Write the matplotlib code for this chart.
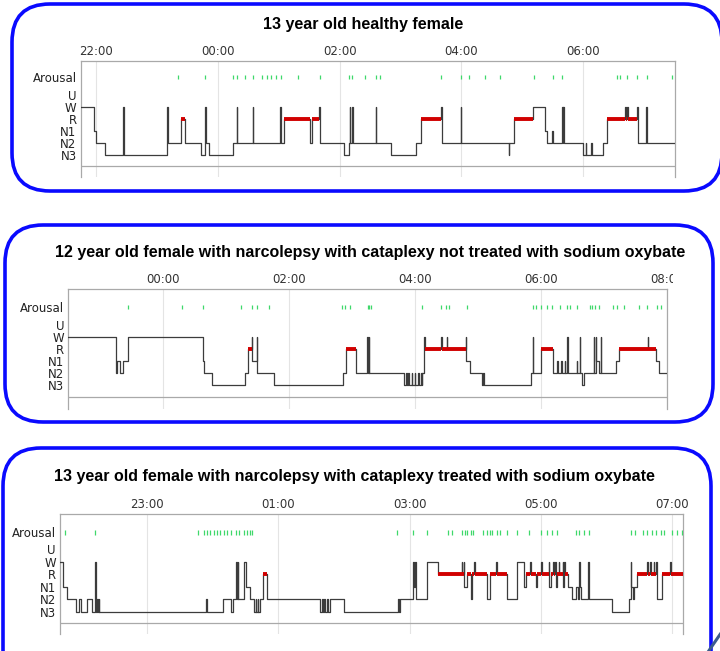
import matplotlib
matplotlib.use('Agg')
import matplotlib.pyplot as plt
from matplotlib.patches import FancyBboxPatch
from matplotlib.transforms import Bbox, TransformedBbox

# ---------------- data ----------------
stage_names = ['N3', 'N2', 'N1', 'R', 'W', 'U']
stage_level = {'N3': 0, 'N2': 1, 'N1': 2, 'R': 3, 'W': 4, 'U': 5}

titles = ['13 year old healthy female',
          '12 year old female with narcolepsy with cataplexy not treated with sodium oxybate',
          '13 year old female with narcolepsy with cataplexy treated with sodium oxybate']

# clock hours (24 = 00:00 next day)
p1_range = (21.75, 31.5)
p1_ticks = [22, 24, 26, 28, 30]
p1_ticklabels = ['22:00', '00:00', '02:00', '04:00', '06:00']
p1_epochs = [(21.75, 'W'), (21.97, 'N1'), (22.005, 'N2'), (22.15, 'N3'), (22.45, 'W'), (22.46, 'N3'),
             (23.16, 'W'), (23.175, 'N2'), (23.39, 'R'), (23.46, 'N2'), (23.72, 'N3'), (23.79, 'W'),
             (23.80, 'N2'), (23.85, 'N3'), (24.25, 'N2'), (24.31, 'W'), (24.32, 'N2'), (24.57, 'W'),
             (24.58, 'N2'), (25.02, 'W'), (25.03, 'N2'), (25.09, 'R'), (25.51, 'N2'), (25.54, 'R'),
             (25.66, 'W'), (25.67, 'N2'), (26.07, 'N3'), (26.15, 'N2'), (26.17, 'W'), (26.175, 'N2'),
             (26.21, 'W'), (26.215, 'N2'), (26.59, 'W'), (26.60, 'N2'), (26.84, 'N3'), (27.26, 'N2'),
             (27.34, 'R'), (27.66, 'W'), (27.675, 'N2'), (27.99, 'W'), (28.0, 'N2'), (28.775, 'N3'),
             (28.785, 'N2'), (28.86, 'R'), (29.175, 'W'), (29.37, 'N1'), (29.40, 'N2'), (29.49, 'N1'),
             (29.50, 'N2'), (29.65, 'W'), (29.66, 'N2'), (29.67, 'W'), (29.68, 'N2'), (30.0, 'N3'),
             (30.04, 'N2'), (30.05, 'N3'), (30.125, 'N2'), (30.135, 'N3'), (30.32, 'N2'), (30.39, 'R'),
             (30.69, 'W'), (30.695, 'R'), (30.725, 'W'), (30.73, 'R'), (30.88, 'W'), (30.89, 'N2'),
             (31.03, 'W'), (31.04, 'N2')]
p1_arousals = [23.34, 23.79, 24.25, 24.31, 24.45, 24.57, 24.73, 24.80, 24.88, 24.95, 25.03, 25.31,
               25.68, 26.16, 26.21, 26.41, 26.59, 26.67, 27.66, 28.0, 28.12, 28.39, 28.64, 29.19,
               29.50, 29.65, 30.56, 30.61, 30.72, 30.88, 31.04, 31.46]

p2_range = (22.5, 32.0)
p2_ticks = [24, 26, 28, 30, 32]
p2_ticklabels = ['00:00', '02:00', '04:00', '06:00', '08:00']
p2_epochs = [(22.5, 'W'), (23.26, 'N2'), (23.28, 'N1'), (23.32, 'N2'), (23.37, 'N1'), (23.44, 'W'),
             (24.64, 'N1'), (24.66, 'N2'), (24.78, 'N3'), (25.31, 'N2'), (25.345, 'N1'), (25.36, 'R'),
             (25.41, 'W'), (25.42, 'N1'), (25.49, 'W'), (25.50, 'N2'), (25.77, 'N3'), (26.86, 'N2'),
             (26.91, 'R'), (27.06, 'N2'), (27.24, 'W'), (27.25, 'N2'), (27.27, 'W'), (27.28, 'N2'),
             (27.825, 'N3'), (27.86, 'N2'), (27.87, 'N3'), (27.90, 'N2'), (27.91, 'N3'), (27.95, 'N2'),
             (27.96, 'N3'), (28.0, 'N2'), (28.01, 'N3'), (28.05, 'N2'), (28.06, 'N3'), (28.10, 'N2'),
             (28.11, 'N3'), (28.12, 'N2'), (28.14, 'W'), (28.17, 'R'), (28.42, 'W'), (28.43, 'R'),
             (28.51, 'W'), (28.52, 'R'), (28.81, 'W'), (28.82, 'N1'), (28.885, 'N2'), (29.07, 'N3'),
             (29.08, 'N2'), (29.10, 'N3'), (29.84, 'N2'), (29.87, 'W'), (29.875, 'N2'), (30.0, 'R'),
             (30.20, 'N2'), (30.26, 'N1'), (30.27, 'N2'), (30.32, 'N1'), (30.33, 'N2'), (30.38, 'N1'),
             (30.39, 'N2'), (30.42, 'W'), (30.43, 'N2'), (30.57, 'N1'), (30.58, 'N2'), (30.62, 'W'),
             (30.63, 'N2'), (30.66, 'N3'), (30.69, 'N2'), (30.845, 'W'), (30.85, 'N2'), (30.88, 'W'),
             (30.885, 'N1'), (30.92, 'N2'), (30.95, 'W'), (30.96, 'N2'), (31.19, 'N1'), (31.24, 'R'),
             (31.70, 'W'), (31.71, 'R'), (31.83, 'N1'), (31.88, 'N2')]
p2_arousals = [23.44, 24.30, 24.645, 25.24, 25.415, 25.49, 25.68, 26.85, 26.90, 26.97, 27.25, 27.27,
               27.31, 28.12, 28.42, 28.50, 28.54, 28.83, 29.87, 29.92, 30.0, 30.10, 30.18, 30.305,
               30.42, 30.46, 30.58, 30.78, 30.82, 30.86, 30.93, 31.14, 31.21, 31.32, 31.56, 31.69,
               31.85, 31.91]

p3_range = (21.67, 31.17)
p3_ticks = [23, 25, 27, 29, 31]
p3_ticklabels = ['23:00', '01:00', '03:00', '05:00', '07:00']
p3_epochs = [(21.67, 'W'), (21.72, 'N1'), (21.77, 'N2'), (21.92, 'N3'), (21.96, 'N2'), (21.99, 'N3'),
             (22.085, 'N2'), (22.16, 'N3'), (22.21, 'W'), (22.22, 'N3'), (22.24, 'N2'), (22.25, 'N3'),
             (22.26, 'N2'), (22.27, 'N3'), (23.90, 'N2'), (23.915, 'N3'), (24.15, 'N2'), (24.27, 'N3'),
             (24.30, 'N2'), (24.36, 'W'), (24.37, 'N2'), (24.38, 'W'), (24.39, 'N2'), (24.48, 'W'),
             (24.51, 'N1'), (24.56, 'N2'), (24.625, 'N3'), (24.65, 'N2'), (24.66, 'N3'), (24.685, 'N2'),
             (24.69, 'N3'), (24.72, 'N2'), (24.76, 'R'), (24.83, 'N2'), (25.63, 'N3'), (25.67, 'N2'),
             (25.675, 'N3'), (25.70, 'N2'), (25.71, 'N3'), (25.74, 'N2'), (25.75, 'N3'), (25.79, 'N2'),
             (26.00, 'N3'), (26.82, 'N2'), (26.83, 'N3'), (26.85, 'N2'), (27.05, 'W'), (27.06, 'N1'),
             (27.08, 'W'), (27.09, 'N2'), (27.26, 'W'), (27.43, 'R'), (27.79, 'W'), (27.80, 'R'),
             (27.83, 'W'), (27.835, 'N1'), (27.87, 'R'), (27.93, 'N2'), (27.945, 'R'), (27.98, 'W'),
             (27.99, 'R'), (28.18, 'N2'), (28.22, 'R'), (28.32, 'W'), (28.33, 'R'), (28.49, 'N2'),
             (28.64, 'W'), (28.74, 'N1'), (28.77, 'R'), (28.84, 'W'), (28.85, 'R'), (28.92, 'N1'),
             (28.94, 'R'), (29.0, 'W'), (29.01, 'R'), (29.12, 'W'), (29.13, 'N1'), (29.15, 'R'),
             (29.19, 'W'), (29.20, 'R'), (29.22, 'W'), (29.23, 'N1'), (29.25, 'R'), (29.27, 'W'),
             (29.28, 'R'), (29.33, 'W'), (29.34, 'N1'), (29.35, 'W'), (29.36, 'R'), (29.42, 'N1'),
             (29.48, 'N2'), (29.53, 'N1'), (29.56, 'N2'), (29.58, 'W'), (29.59, 'N1'), (29.605, 'N2'),
             (29.72, 'W'), (29.73, 'N2'), (30.09, 'N3'), (30.34, 'N2'), (30.37, 'W'), (30.375, 'N1'),
             (30.40, 'N2'), (30.415, 'N1'), (30.47, 'R'), (30.62, 'W'), (30.63, 'R'), (30.67, 'W'),
             (30.68, 'R'), (30.72, 'W'), (30.73, 'R'), (30.76, 'W'), (30.77, 'N2'), (30.85, 'R'),
             (30.97, 'W'), (30.98, 'R')]
p3_arousals = [21.74, 22.21, 23.78, 23.86, 23.915, 23.95, 24.015, 24.07, 24.11, 24.17, 24.21, 24.27,
               24.35, 24.40, 24.47, 24.52, 24.56, 24.59, 26.80, 27.055, 27.27, 27.58, 27.65, 27.80,
               27.84, 27.88, 27.93, 27.97, 28.11, 28.18, 28.22, 28.26, 28.335, 28.375, 28.48, 28.64,
               28.82, 29.0, 29.10, 29.17, 29.25, 29.53, 29.58, 29.65, 29.73, 30.38, 30.43, 30.55,
               30.62, 30.69, 30.76, 30.835, 30.87, 31.0, 31.08, 31.155]

# ---------------- layout (pixels) ----------------
FW, FH = 720, 651
fig = plt.figure(figsize=(7.2, 6.51), dpi=100)
fig.patch.set_facecolor('white')

bg = fig.add_axes([0, 0, 1, 1], zorder=0)
bg.set_xlim(0, FW)
bg.set_ylim(FH, 0)
bg.axis('off')

boxes = [(12, 4, 710, 187), (5, 225, 708, 197), (3, 448, 708, 240)]
title_pos = [(363, 25), (370, 253), (354, 477)]
for (bx, by, bw, bh), (tx, ty), ttl in zip(boxes, title_pos, titles):
    bg.add_patch(FancyBboxPatch((bx, by), bw, bh,
                                boxstyle='round,pad=0,rounding_size=38',
                                facecolor='white', edgecolor='#0a0aff', linewidth=2.6))
    bg.text(tx, ty, ttl, ha='center', va='center', fontsize=11.5, fontweight='bold',
            family='Liberation Sans', color='black')
# small slide artefact in bottom right corner
bg.plot([708, 721], [652, 633], color='#3b5b8c', lw=2.2, solid_capstyle='butt')

panels = [
    dict(rect=(80.7, 674.7, 61, 177), ylim=(-1.83, 7.83), base=-0.92, ar=6.5,
         rng=p1_range, ticks=p1_ticks, labels=p1_ticklabels, epochs=p1_epochs, arousals=p1_arousals),
    dict(rect=(68.3, 666.7, 289, 409), ylim=(-2.0, 8.0), base=-1.02, ar=6.5,
         rng=p2_range, ticks=p2_ticks, labels=p2_ticklabels, epochs=p2_epochs, arousals=p2_arousals),
    dict(rect=(60.0, 683.3, 514, 634), ylim=(-1.78, 7.82), base=-0.9, ar=6.35,
         rng=p3_range, ticks=p3_ticks, labels=p3_ticklabels, epochs=p3_epochs, arousals=p3_arousals),
]

spine_c = '#a9a9a9'
for i, p in enumerate(panels):
    x0, x1, yt, yb = p['rect']
    ax = fig.add_axes([x0 / FW, 1 - yb / FH, (x1 - x0) / FW, (yb - yt) / FH], zorder=2)
    ax.patch.set_alpha(0)
    ax.set_xlim(*p['rng'])
    ax.set_ylim(*p['ylim'])
    for s in ['top', 'left', 'right']:
        ax.spines[s].set_color(spine_c)
        ax.spines[s].set_linewidth(0.9)
    ax.spines['bottom'].set_visible(False)
    ax.axhline(p['base'], color=spine_c, lw=0.9)
    for t in p['ticks']:
        ax.axvline(t, color='#e4e4e4', lw=0.8, zorder=0)

    ax.set_yticks([p['ar'], 5, 4, 3, 2, 1, 0])
    ax.set_yticklabels(['Arousal', 'U', 'W', 'R', 'N1', 'N2', 'N3'])
    ax.tick_params(axis='y', length=0, pad=3, labelsize=8.5, labelcolor='#222222')
    ax.set_xticks([])

    for t, lab in zip(p['ticks'], p['labels']):
        txt = ax.text(t, 1.0 + 3 / (yb - yt), lab, transform=ax.get_xaxis_transform(),
                      ha='center', va='bottom', fontsize=8.5, color='#333333', family='DejaVu Sans')
        if t >= p['rng'][1]:
            clip = TransformedBbox(Bbox([[0, 0], [(x1 + 6) / FW, 1]]), fig.transFigure)
            txt.set_clip_box(clip)
            txt.set_clip_on(True)

    times = [e[0] for e in p['epochs']] + [p['rng'][1]]
    vals = [stage_level[e[1]] for e in p['epochs']]
    vals = vals + [vals[-1]]
    ax.step(times, vals, where='post', color='#3c3c3c', lw=0.9, zorder=3)
    for j, (t, s) in enumerate(p['epochs']):
        if s == 'R':
            ax.hlines(3, t, times[j + 1], color='#d10000', lw=2.8, zorder=4)

    ax.vlines(p['arousals'], p['ar'] - 0.2, p['ar'] + 0.2, color='#3fd86a', lw=0.9, zorder=3)

fig.savefig('out.png', dpi=100, facecolor='white')
